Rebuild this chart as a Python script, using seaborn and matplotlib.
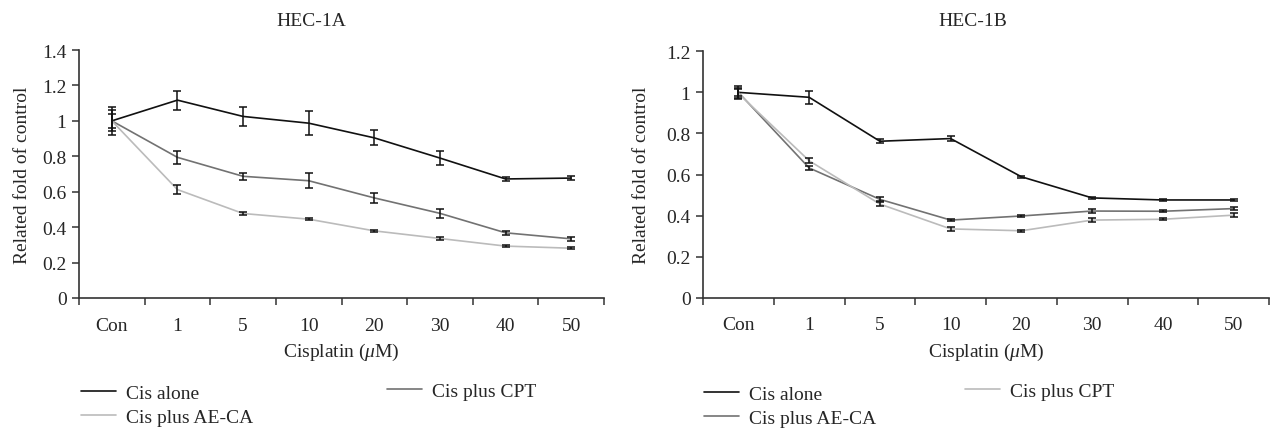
import matplotlib
matplotlib.use("Agg")
import matplotlib.pyplot as plt
import seaborn as sns
import pandas as pd
import numpy as np

doses = ["Con", "1", "5", "10", "20", "30", "40", "50"]

# HEC-1A
a_alone = [1.0, 1.117, 1.025, 0.987, 0.904, 0.790, 0.672, 0.677]
a_alone_err = [0.08, 0.054, 0.056, 0.069, 0.043, 0.042, 0.01, 0.01]
a_cpt = [1.0, 0.794, 0.687, 0.662, 0.565, 0.478, 0.368, 0.334]
a_cpt_err = [0.06, 0.038, 0.02, 0.041, 0.03, 0.024, 0.01, 0.01]
a_aeca = [1.0, 0.612, 0.477, 0.445, 0.379, 0.336, 0.293, 0.281]
a_aeca_err = [0.04, 0.026, 0.008, 0.006, 0.005, 0.008, 0.005, 0.005]

# HEC-1B
b_alone = [1.0, 0.976, 0.762, 0.775, 0.589, 0.486, 0.476, 0.476]
b_alone_err = [0.03, 0.033, 0.01, 0.012, 0.005, 0.005, 0.004, 0.004]
b_aeca = [1.0, 0.632, 0.479, 0.378, 0.398, 0.422, 0.421, 0.434]
b_aeca_err = [0.02, 0.01, 0.01, 0.006, 0.005, 0.01, 0.005, 0.008]
b_cpt = [0.995, 0.667, 0.456, 0.335, 0.326, 0.378, 0.382, 0.402]
b_cpt_err = [0.02, 0.012, 0.01, 0.008, 0.006, 0.008, 0.006, 0.01]

sns.set_style("white")
plt.rcParams["font.family"] = ["Liberation Serif", "DejaVu Serif"]
plt.rcParams["mathtext.fontset"] = "custom"
plt.rcParams["mathtext.rm"] = "Liberation Serif"
plt.rcParams["mathtext.it"] = "Liberation Serif:italic"

BLACK = "#111111"
MID = "#727272"
LIGHT = "#bbbbbb"
FS = 14

fig = plt.figure(figsize=(12.72, 4.31), dpi=100)
H = 431.0
W = 1272.0


def panel(rect, series, ymax, title, title_x, leg_col1, leg_col2):
    ax = fig.add_axes(rect)
    rows = []
    for name, vals, errs, col in series:
        for d, v in zip(doses, vals):
            rows.append({"dose": d, "value": v, "series": name})
    df = pd.DataFrame(rows)
    pal = {s[0]: s[3] for s in series}
    sns.lineplot(data=df, x="dose", y="value", hue="series", palette=pal,
                 sort=False, linewidth=1.2, legend=False, ax=ax)
    for name, vals, errs, col in series:
        ax.errorbar(np.arange(len(doses)), vals, yerr=errs, fmt="none",
                    ecolor=BLACK, elinewidth=1.1, capsize=2.6, capthick=1.1)
    ax.set_xlim(-0.5, len(doses) - 0.5)
    ax.set_ylim(0, ymax)
    yt = np.arange(0, ymax + 0.01, 0.2)
    ax.set_yticks(yt)
    ax.set_yticklabels(["0" if abs(t) < 1e-9 else ("1" if abs(t - 1) < 1e-9 else f"{t:.1f}")
                        for t in yt])
    ax.set_xticks(np.arange(len(doses)))
    ax.set_xticklabels(doses)
    ax.set_xticks(np.arange(-0.5, len(doses)), minor=True)
    ax.tick_params(axis="x", which="major", length=0, pad=13.5, labelsize=FS)
    ax.tick_params(axis="x", which="minor", length=5, width=1.1, color="#333333",
                   direction="out", bottom=True)
    ax.tick_params(axis="y", length=5, width=1.1, color="#333333", direction="out",
                   left=True, pad=4, labelsize=FS)
    for s in ["top", "right"]:
        ax.spines[s].set_visible(False)
    for s in ["left", "bottom"]:
        ax.spines[s].set_color("#333333")
        ax.spines[s].set_linewidth(1.2)
    ax.set_xlabel(r"Cisplatin ($\mu$M)", fontsize=FS)
    ax.set_ylabel("Related fold of control", fontsize=FS)
    fig.text(title_x / W, 1 - 22 / H, title, ha="center", va="center", fontsize=FS)

    handles = {s[0]: plt.Line2D([], [], color=s[3], lw=1.2) for s in series}
    kw = dict(frameon=False, fontsize=FS, handlelength=1.8, handletextpad=0.5,
              borderpad=0, borderaxespad=0, labelspacing=0.35, loc="upper left")
    l1 = ax.legend([handles[n] for n in leg_col1[0]], leg_col1[0],
                   bbox_to_anchor=(leg_col1[1] / W, 1 - leg_col1[2] / H),
                   bbox_transform=fig.transFigure, **kw)
    ax.add_artist(l1)
    ax.legend([handles[n] for n in leg_col2[0]], leg_col2[0],
              bbox_to_anchor=(leg_col2[1] / W, 1 - leg_col2[2] / H),
              bbox_transform=fig.transFigure, **kw)
    return ax


# left panel
ax1 = panel([79 / W, 1 - 299 / H, 525 / W, 248 / H],
            [("Cis alone", a_alone, a_alone_err, BLACK),
             ("Cis plus CPT", a_cpt, a_cpt_err, MID),
             ("Cis plus AE-CA", a_aeca, a_aeca_err, LIGHT)],
            1.4, "HEC-1A", 311,
            (["Cis alone", "Cis plus AE-CA"], 81, 385),
            (["Cis plus CPT"], 387, 383))
ax1.yaxis.set_label_coords(-0.092, 0.5)
ax1.xaxis.set_label_coords(0.5, -0.172)

# right panel
ax2 = panel([703 / W, 1 - 298.7 / H, 566 / W, 246.4 / H],
            [("Cis alone", b_alone, b_alone_err, BLACK),
             ("Cis plus AE-CA", b_aeca, b_aeca_err, MID),
             ("Cis plus CPT", b_cpt, b_cpt_err, LIGHT)],
            1.2, "HEC-1B", 973,
            (["Cis alone", "Cis plus AE-CA"], 704, 386),
            (["Cis plus CPT"], 965, 383))
ax2.yaxis.set_label_coords(-0.093, 0.5)
ax2.xaxis.set_label_coords(0.5, -0.174)

fig.savefig("out.png", dpi=100)
